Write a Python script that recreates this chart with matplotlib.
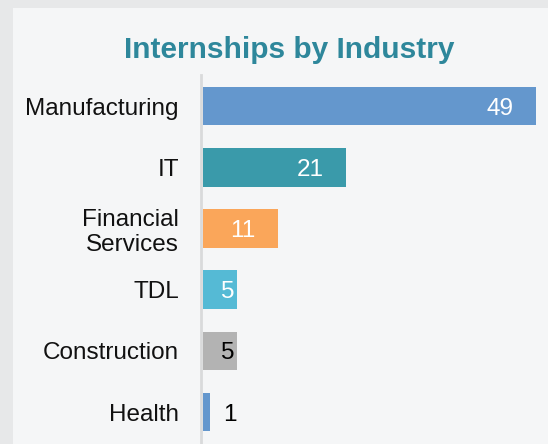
import matplotlib
matplotlib.use("Agg")
import matplotlib.pyplot as plt
from matplotlib.patches import Rectangle

categories = ["Manufacturing", "IT", "Financial\nServices", "TDL", "Construction", "Health"]
values = [49, 21, 11, 5, 5, 1]
colors = ["#6497CD", "#3A9AAA", "#FAA65A", "#55BAD5", "#B3B3B3", "#6497CD"]
label_colors = ["white", "white", "white", "white", "black", "black"]

plt.rcParams['font.family'] = ['Liberation Sans', 'DejaVu Sans']

W, H = 548, 444
fig = plt.figure(figsize=(W / 100, H / 100), dpi=100)
fig.patch.set_facecolor("#E7E8E9")
fig.patches.append(Rectangle((13 / W, 0), 1, (H - 8) / H, transform=fig.transFigure,
                             facecolor="#F5F6F7", edgecolor="none", zorder=-10))

left_px, right_px, top_px = 203, 536, 75
ax = fig.add_axes([left_px / W, 0, (right_px - left_px) / W, 1 - top_px / H])
ax.set_facecolor("none")
ax.set_zorder(5)

y = list(range(len(categories)))
ax.barh(y, values, height=0.63, color=colors, zorder=2)
ax.set_xlim(0, 49)
ax.set_ylim(5.52, -0.507)

ax.tick_params(axis='y', length=0, pad=16, labelsize=17.5, labelcolor="#111111")
ax.set_yticks(y)
ax.set_yticklabels(categories, linespacing=1.1)
ax.set_xticks([])
for s in ["top", "right", "bottom"]:
    ax.spines[s].set_visible(False)
ax.spines["left"].set_color("#D9DADB")
ax.spines["left"].set_linewidth(2)
ax.spines["left"].set_position(("outward", 1.4))

px_per_unit = (right_px - left_px) / 49
for i, (v, c) in enumerate(zip(values, label_colors)):
    wpx = v * px_per_unit
    if wpx > 60:
        ax.annotate(str(v), (v, i), xytext=(-16, 0), textcoords="offset points",
                    ha="right", va="center_baseline", fontsize=17.5, color=c)
    elif wpx > 20:
        ax.annotate(str(v), (v, i), xytext=(-2, 0), textcoords="offset points",
                    ha="right", va="center_baseline", fontsize=17.5, color=c)
    else:
        ax.annotate(str(v), (v, i), xytext=(9.5, 0), textcoords="offset points",
                    ha="left", va="center_baseline", fontsize=17.5, color=c)

fig.text(289 / W, 1 - 50 / H, "Internships by Industry", ha="center", va="center",
         fontsize=21.5, fontweight="bold", color="#2E879B", zorder=6)

fig.savefig("out.png", dpi=100, facecolor=fig.get_facecolor())
